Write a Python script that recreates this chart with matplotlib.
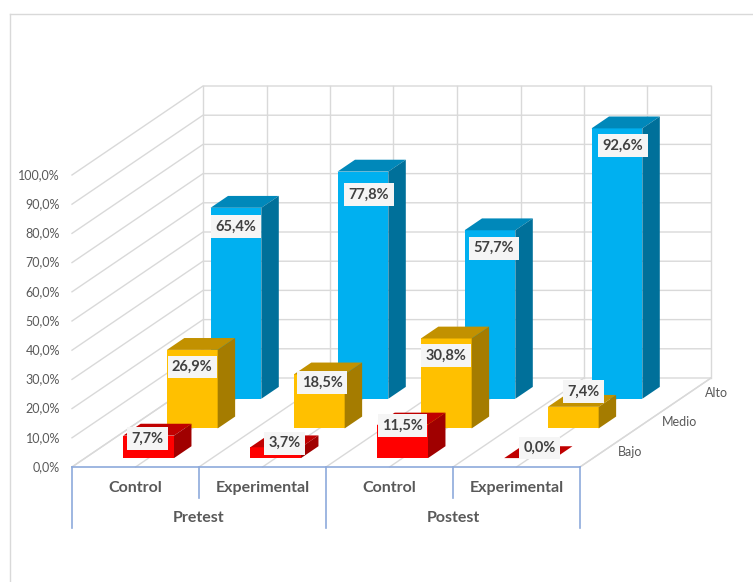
import matplotlib.pyplot as plt
from matplotlib.patches import Polygon
from matplotlib.lines import Line2D

# data
groups = ['Pretest', 'Postest']
subgroups = ['Control', 'Experimental', 'Control', 'Experimental']
levels = ['Bajo', 'Medio', 'Alto']
bajo = [7.7, 3.7, 11.5, 0.0]
medio = [26.9, 18.5, 30.8, 7.4]
alto = [65.4, 77.8, 57.7, 92.6]
y_ticks = [0, 10, 20, 30, 40, 50, 60, 70, 80, 90, 100]

# colours per level: front, top, side
colors = {
    'Bajo': ('#FF0000', '#C00000', '#A00000'),
    'Medio': ('#FFC000', '#C29100', '#A57C00'),
    'Alto': ('#00B0F0', '#0088BA', '#00709A'),
}
grid_c = '#D9D9D9'
axis_c = '#8EAADB'
text_c = '#595959'

# label nudges in pixels (dx, dy down) from top centre of the front face
label_nudge = {
    'Bajo': [(-1, 3), (9, -4), (0, 1), (10, -10)],
    'Medio': [(0, 17), (3, 8), (0, 17), (10, -15)],
    'Alto': [(0, 19), (6, 23), (4, 18), (6, 17)],
}

plt.rcParams['font.family'] = ['Lato', 'DejaVu Sans']

W, H = 753, 582
PX_CAT = 127.0     # pixels per category
PX_PCT = 2.92      # pixels per percent
X0, Y0 = 72, 467   # front-left floor corner (pixels from top-left)
DX = 131 / PX_CAT  # full depth offset in category units
DY = 89 / PX_PCT   # full depth offset in percent units


def proj(c, d, v):
    return c + DX * d, v + DY * d


def px(x):
    return (x - X0) / PX_CAT


def py(y):
    return (Y0 - y) / PX_PCT


fig = plt.figure(figsize=(W / 100, H / 100), dpi=100)
ax = fig.add_axes([0, 0, 1, 1])
ax.set_xlim(-X0 / PX_CAT, (W - X0) / PX_CAT)
ax.set_ylim(-(H - Y0) / PX_PCT, Y0 / PX_PCT)
ax.axis('off')

ncat = len(subgroups)

# walls and floor gridlines
for v in y_ticks:
    a = proj(0, 0, v)
    b = proj(0, 1, v)
    e = proj(ncat, 1, v)
    ax.plot([a[0], b[0], e[0]], [a[1], b[1], e[1]], color=grid_c, lw=1, zorder=1)
for k in range(2 * ncat + 1):
    c = k / 2
    a = proj(c, 1, 0)
    b = proj(c, 1, 100)
    ax.plot([a[0], b[0]], [a[1], b[1]], color=grid_c, lw=1, zorder=1)
    f = proj(c, 0, 0)
    ax.plot([f[0], a[0]], [f[1], a[1]], color=grid_c, lw=1, zorder=1)

# bars, back row first
series = {'Bajo': bajo, 'Medio': medio, 'Alto': alto}
bw = 0.4
for r in [2, 1, 0]:
    lvl = levels[r]
    front_c, top_c, side_c = colors[lvl]
    d0 = r / 3 + 0.1
    d1 = d0 + 0.4 / 3
    z = 3 + (2 - r)
    for i, v in enumerate(series[lvl]):
        c0 = i + 0.3
        c1 = c0 + bw
        fx, fy = proj(c0, d0, 0)
        ax.bar(fx, v, width=bw, bottom=fy, align='edge', color=front_c,
               lw=0, zorder=z)
        top = [proj(c0, d0, v), proj(c1, d0, v), proj(c1, d1, v), proj(c0, d1, v)]
        ax.add_patch(Polygon(top, closed=True, fc=top_c, ec='none', zorder=z))
        side = [proj(c1, d0, 0), proj(c1, d1, 0), proj(c1, d1, v), proj(c1, d0, v)]
        ax.add_patch(Polygon(side, closed=True, fc=side_c, ec='none', zorder=z))
        lx, ly = proj(c0 + bw / 2, d0, v)
        ndx, ndy = label_nudge[lvl][i]
        ax.annotate(f'{v:.1f}%'.replace('.', ','), xy=(lx, ly),
                    xytext=(ndx, -ndy), textcoords='offset pixels',
                    ha='center', va='center', fontsize=10.5, fontweight='bold',
                    color='#404040', zorder=10,
                    bbox=dict(boxstyle='square,pad=0.3', fc='#F5F5F5', ec='none'))

# y tick labels on the left wall
for v in y_ticks:
    ax.text(px(60), v, f'{v:.1f}%'.replace('.', ','), ha='right', va='center',
            fontsize=9, color=text_c)

# depth axis
a = proj(ncat, 0, 0)
b = proj(ncat, 1, 0)
ax.plot([a[0], b[0]], [a[1], b[1]], color=grid_c, lw=1, zorder=1)
for r, lvl in enumerate(levels):
    x, y = proj(ncat, (r + 0.5) / 3, 0)
    ax.text(x + 16 / PX_CAT, y, lvl, ha='left', va='center', fontsize=9,
            color=text_c)

# multi-level category axis
ax.plot([0, ncat], [0, 0], color=axis_c, lw=1.2, zorder=6)
for k in range(ncat + 1):
    bottom = py(528) if k % 2 == 0 else py(498)
    ax.plot([k, k], [0, bottom], color=axis_c, lw=1.2, zorder=6)
for i, name in enumerate(subgroups):
    ax.text(i + 0.5, py(488), name, ha='center', va='center', fontsize=11.5,
            fontweight='bold', color=text_c)
for j, name in enumerate(groups):
    ax.text(2 * j + 1, py(518), name, ha='center', va='center', fontsize=11.5,
            fontweight='bold', color=text_c)

# chart area border (left and top edges visible)
fig.add_artist(Line2D([10 / W, 10 / W], [0, 1 - 14 / H], transform=fig.transFigure,
                      color=grid_c, lw=1))
fig.add_artist(Line2D([10 / W, 1], [1 - 14 / H, 1 - 14 / H], transform=fig.transFigure,
                      color=grid_c, lw=1))

fig.savefig('out.png', dpi=100)
